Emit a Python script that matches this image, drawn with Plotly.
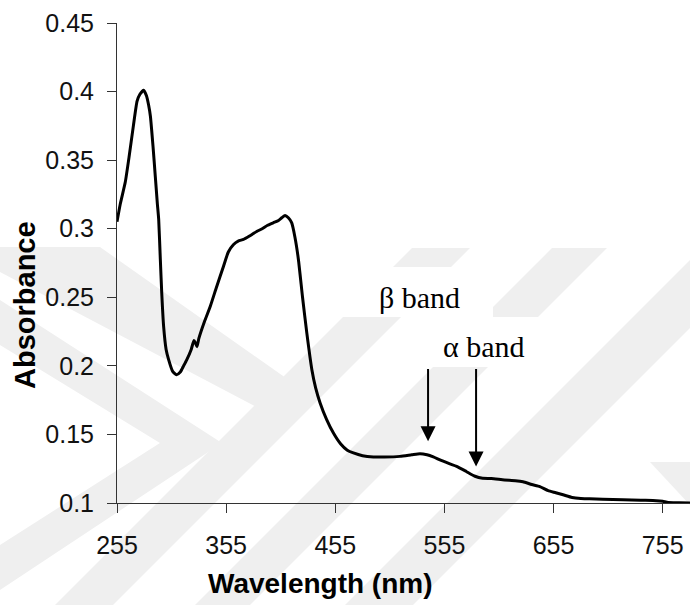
import plotly.graph_objects as go

# ---------------- data ----------------
wavelength = [255, 258, 262.6, 266, 270, 273.4, 276, 279.4, 282, 284, 285.6, 288, 290.1, 292,
              293.2, 294.7, 296, 297.7, 300, 302.3, 306, 309.5, 313, 316, 319, 323, 325.5, 327,
              328.3, 330, 335, 340.5, 346, 352.6, 357, 361.8, 366, 370.9, 376, 380, 383, 388,
              393, 398.4, 403, 406, 409, 412, 415, 418, 421.2, 425, 428.9, 433.5, 437, 441.1,
              447, 453.3, 460, 466, 471.6, 480, 489.9, 500, 514.3, 525, 532.6, 539, 544.8, 552,
              560, 566.2, 575, 583, 590, 598, 610, 620, 627, 635, 642.4, 650, 657, 663.7, 672,
              680, 688, 700, 718.6, 735, 749, 755, 760, 770, 780]
absorbance = [0.305, 0.318, 0.334, 0.352, 0.375, 0.393, 0.398, 0.401, 0.397, 0.390, 0.382, 0.360,
              0.338, 0.318, 0.3068, 0.2776, 0.253, 0.229, 0.212, 0.2046, 0.196, 0.1935, 0.1955,
              0.200, 0.2046, 0.212, 0.2185, 0.2165, 0.214, 0.220, 0.232, 0.2435, 0.257, 0.2727,
              0.283, 0.2885, 0.291, 0.2922, 0.2945, 0.2965, 0.298, 0.300, 0.3025, 0.3044, 0.306,
              0.308, 0.3097, 0.308, 0.3044, 0.294, 0.2776, 0.250, 0.224, 0.1974, 0.184, 0.173,
              0.161, 0.151, 0.143, 0.1385, 0.1365, 0.1345, 0.1336, 0.1335, 0.134, 0.1352, 0.136,
              0.1352, 0.1336, 0.131, 0.1285, 0.1267, 0.123, 0.1195, 0.118, 0.1178, 0.1168,
              0.1163, 0.1155, 0.1135, 0.112, 0.109, 0.1075, 0.106, 0.104, 0.1033, 0.1031, 0.1027,
              0.1024, 0.102, 0.1017, 0.1012, 0.1004, 0.1002, 0.1]

x_ticks = [255, 355, 455, 555, 655, 755]
y_ticks = [0.1, 0.15, 0.2, 0.25, 0.3, 0.35, 0.4, 0.45]
y_tick_text = ["0.1", "0.15", "0.2", "0.25", "0.3", "0.35", "0.4", "0.45"]

band_names = ["β band", "α band"]
band_wavelength = [540, 584]
band_tip = [0.145, 0.1267]
band_tail = [0.1988, 0.1988]

# ---------------- layout helpers ----------------
W, H = 690, 605
L, R, T, B = 117, 0, 23, 102
PW, PH = W - L - R, H - T - B


def px(x):
    return (x - L) / PW


def py(y):
    return (H - B - y) / PH


def poly(points):
    return "M " + " L ".join(f"{px(a):.4f},{py(b):.4f}" for a, b in points) + " Z"


WM = "#efefef"
watermark = [
    [(0, 247), (100, 247), (293, 383), (262, 410), (0, 272)],
    [(0, 300), (222, 443), (0, 590), (0, 545), (160, 443), (0, 345)],
    [(412, 248), (470, 248), (113, 605), (55, 605)],
    [(552, 248), (607, 248), (250, 605), (195, 605)],
    [(702, 248), (770, 248), (413, 605), (345, 605)],
    [(650, 462), (690, 462), (690, 505)],
]

shapes = []
for pts in watermark:
    shapes.append(dict(type="path", xref="paper", yref="paper", path=poly(pts),
                       fillcolor=WM, line=dict(width=0), layer="below"))
# white label boxes
for (x0, y0, x1, y1) in [(340, 267, 493, 317), (405, 317, 540, 367)]:
    shapes.append(dict(type="rect", xref="paper", yref="paper",
                       x0=px(x0), x1=px(x1), y0=py(y1), y1=py(y0),
                       fillcolor="white", line=dict(width=0), layer="below"))

fig = go.Figure()
fig.add_trace(go.Scatter(x=wavelength, y=absorbance, mode="lines",
                         line=dict(color="black", width=3, shape="spline", smoothing=0.5),
                         showlegend=False, hoverinfo="skip"))

annotations = []
for name, xw, tip, tail in zip(band_names, band_wavelength, band_tip, band_tail):
    annotations.append(dict(x=xw, y=tip, ax=xw, ay=tail, xref="x", yref="y",
                            axref="x", ayref="y", text="", showarrow=True,
                            arrowhead=2, arrowsize=1.5, arrowwidth=2, arrowcolor="black"))

label_pos = [(420, 297), (484, 346)]
for name, (lx, ly) in zip(band_names, label_pos):
    annotations.append(dict(x=px(lx), y=py(ly), xref="paper", yref="paper", text=name,
                            showarrow=False, xanchor="center", yanchor="middle",
                            font=dict(family="Liberation Serif, Times New Roman, serif",
                                      size=30, color="black")))

annotations.append(dict(x=px(25), y=py(305), xref="paper", yref="paper", text="<b>Absorbance</b>",
                        textangle=-90, showarrow=False, xanchor="center", yanchor="middle",
                        font=dict(family="Liberation Sans, Arial, sans-serif", size=29,
                                  color="black")))
annotations.append(dict(x=px(320), y=py(583), xref="paper", yref="paper",
                        text="<b>Wavelength (nm)</b>",
                        showarrow=False, xanchor="center", yanchor="middle",
                        font=dict(family="Liberation Sans, Arial, sans-serif", size=28,
                                  color="black")))

axis_common = dict(showgrid=False, zeroline=False, showline=True, linecolor="#333333",
                   linewidth=1, ticks="outside", ticklen=9, tickwidth=1, tickcolor="#333333",
                   tickfont=dict(family="Liberation Sans, Arial, sans-serif", size=25,
                                 color="#111111"))

fig.update_layout(
    width=W, height=H,
    margin=dict(l=L, r=R, t=T, b=B, pad=0),
    paper_bgcolor="white", plot_bgcolor="rgba(0,0,0,0)",
    xaxis=dict(range=[255, 780], tickvals=x_ticks, ticklabelstandoff=11, **axis_common),
    yaxis=dict(range=[0.1, 0.45], tickvals=y_ticks, ticktext=y_tick_text,
               ticklabelstandoff=8, **axis_common),
    shapes=shapes,
    annotations=annotations,
    showlegend=False,
)

fig.write_html("out.html")
